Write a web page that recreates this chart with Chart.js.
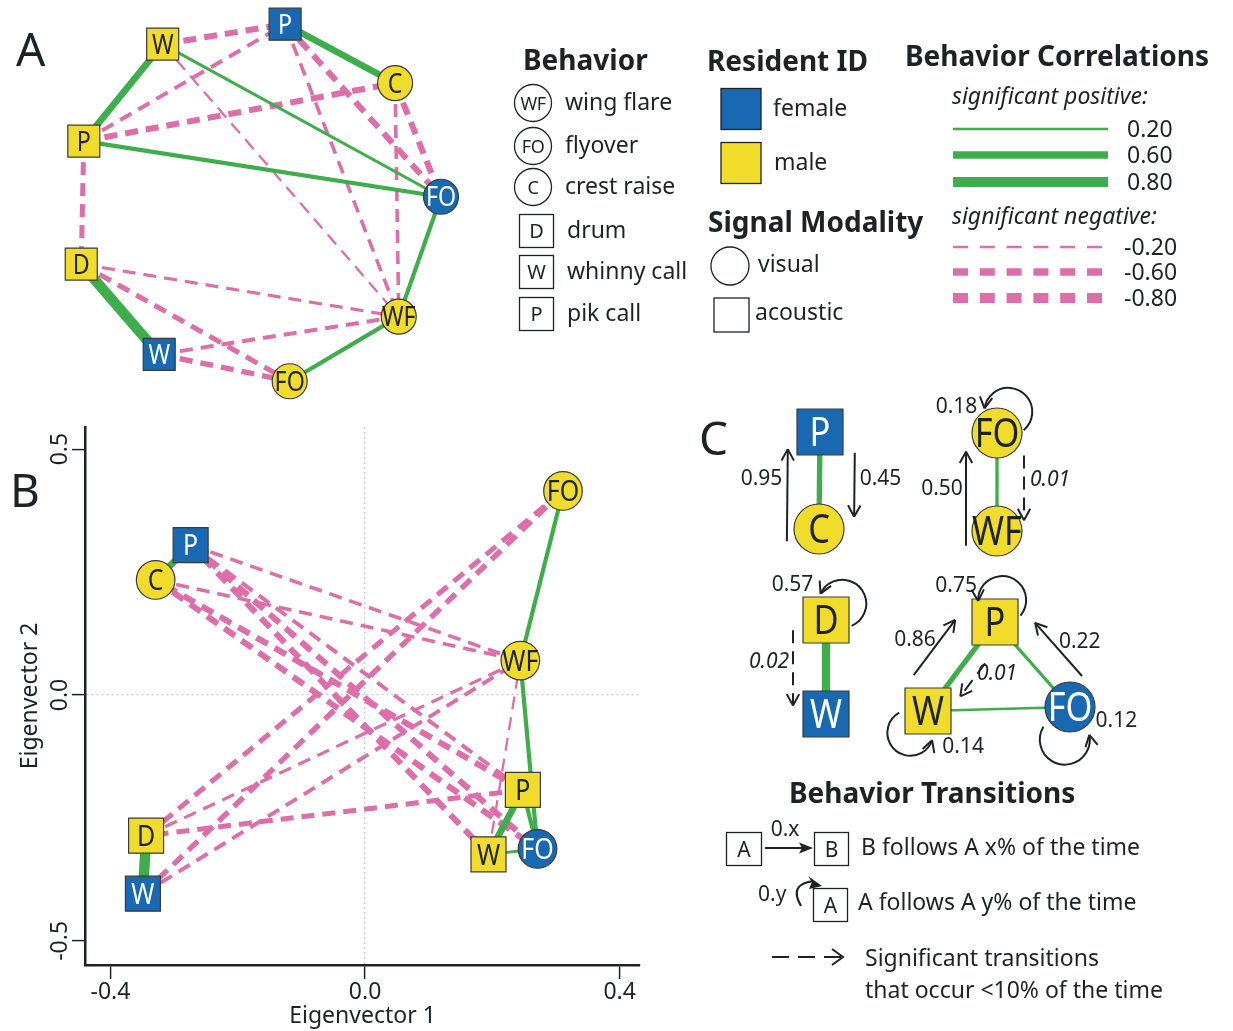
<!DOCTYPE html>
<html lang="en">
<head>
<meta charset="utf-8">
<title>Behavior correlations and transitions</title>
<script src="https://cdn.jsdelivr.net/npm/chart.js@4.4.1/dist/chart.umd.min.js"></script>
<style>
  html, body { margin: 0; padding: 0; background: #fff; }
  body { position: relative; width: 1233px; height: 1031px; overflow: hidden; }
  canvas, svg { position: absolute; }
  #network { left: 0; top: 0; }
  #pca { left: 0; top: 420px; }
  #transitions { left: 690px; top: 380px; }
  #legends { left: 0; top: 0; pointer-events: none; }
  svg text { font-family: "Noto Sans", sans-serif; fill: #1d2325; }
</style>
</head>
<body>
<canvas id="network" width="480" height="410"></canvas>
<canvas id="pca" width="650" height="611"></canvas>
<canvas id="transitions" width="543" height="400"></canvas>
<svg id="legends" width="1233" height="1031"></svg>
<script>
const INK = '#1d2325';
const YELLOW = '#f1dc2c';
const BLUE = '#1868b2';
const GREEN = '#3dae4b';
const PINK = '#dd6ea9';
const FONT = '"Noto Sans", sans-serif';

// one node per behavior and resident
const nodeLabels = ['W', 'P', 'C', 'FO', 'WF', 'FO', 'W', 'D', 'P'];
const nodeSex = ['male', 'female', 'male', 'female', 'male', 'male', 'female', 'male', 'male'];
const nodeSignal = ['acoustic', 'acoustic', 'visual', 'visual', 'visual', 'visual', 'acoustic', 'acoustic', 'acoustic'];

// ring layout of the correlation network (unit circle)
const ringX = [-0.548, 0.121, 0.722, 0.973, 0.742, 0.146, -0.567, -0.993, -0.979];
const ringY = [0.879, 0.988, 0.666, 0.045, -0.610, -0.963, -0.816, -0.323, 0.349];

// eigenvector scores
const eig1 = [0.194, -0.274, -0.329, 0.271, 0.244, 0.311, -0.349, -0.344, 0.248];
const eig2 = [-0.324, 0.305, 0.234, -0.313, 0.070, 0.415, -0.404, -0.286, -0.193];

// significant correlations between behaviors
const edgeFrom = [7, 0, 1, 8, 3, 4, 0, 0, 8, 8, 0, 1, 1, 2, 2, 8, 7, 7, 6, 6];
const edgeTo   = [6, 8, 2, 3, 4, 5, 3, 1, 1, 2, 4, 4, 3, 3, 4, 7, 4, 5, 4, 5];
const edgeR    = [0.85, 0.55, 0.55, 0.35, 0.35, 0.35, 0.25,
                  -0.50, -0.33, -0.50, -0.20, -0.30, -0.50, -0.50, -0.30, -0.42, -0.27, -0.42, -0.33, -0.45];

// transition diagrams: node placement (1 unit = 100 px) and sub-diagram
const flowX = [2.38, 1.30, 1.29, 3.80, 3.07, 3.07, 1.36, 1.36, 3.05];
const flowY = [3.31, 0.52, 1.49, 3.27, 1.51, 0.53, 3.34, 2.40, 2.42];
const flowGroup = [3, 0, 0, 3, 1, 1, 2, 2, 3];

// behavior transitions (from -> to, proportion of the time)
const transFrom = [2, 1, 4, 5, 7, 0, 3, 8, 5, 7, 8, 0, 3];
const transTo   = [1, 2, 5, 4, 6, 8, 8, 0, 5, 7, 8, 0, 3];
const transProb = [0.95, 0.45, 0.50, 0.01, 0.02, 0.86, 0.22, 0.01, 0.18, 0.57, 0.75, 0.14, 0.12];

// axis ticks and legend steps
const xTicks = [-0.4, 0, 0.4];
const yTicks = [-0.5, 0, 0.5];
const corrLegend = [0.2, 0.6, 0.8];

// arrow geometry: straight arrows run from t0 to t1 along the node pair, shifted sideways;
// self transitions are loops placed in direction `dir` from the node
const arrowLayout = [
  { t0: -0.13, t1: 0.82, off: 32, lt: 0.52, loff: 58 },
  { t0: 0.21, t1: 0.87, off: 35, lt: 0.46, loff: 61 },
  { t0: -0.15, t1: 0.81, off: 31, lt: 0.44, loff: 55 },
  { t0: 0.23, t1: 0.89, off: 27, lt: 0.46, loff: 53 },
  { t0: 0.11, t1: 0.91, off: -33, lt: 0.43, loff: -57 },
  { t0: 0.18, t1: 0.80, off: 33, lt: 0.45, loff: 54 },
  { t0: 0.135, t1: 0.76, off: -29.5, lt: 0.38, loff: -51 },
  { t0: 0.35, t1: 0.72, off: 17, lt: 0.35, loff: 32 },
  { dir: -62, dist: 24, r: 24, dx: -28, dy: -3 },
  { dir: -45, dist: 23, r: 24, dx: -28, dy: -10 },
  { dir: -72, dist: 23, r: 24, dx: -22, dy: -16 },
  { dir: 129, dist: 28, r: 23, dx: 31, dy: 5 },
  { dir: 99, dist: 33, r: 25, dx: 27, dy: -15 }
];

const corrWidth = r => 12.5 * Math.abs(r) - 0.2;

function nodeDataset(xs, ys, side, radius) {
  const idx = nodeLabels.map((_, i) => i);
  return {
    order: 0,
    clip: false,
    data: idx.map(i => ({ x: xs[i], y: ys[i], node: i })),
    pointStyle: idx.map(i => nodeSignal[i] === 'visual' ? 'circle' : 'rect'),
    pointRadius: idx.map(i => nodeSignal[i] === 'visual' ? radius : side * Math.SQRT1_2),
    pointBackgroundColor: idx.map(i => nodeSex[i] === 'female' ? BLUE : YELLOW),
    pointBorderColor: '#3a3a3a',
    pointBorderWidth: 1.2
  };
}

function edgeDatasets(xs, ys, widthScale, keep) {
  const sets = [];
  edgeR.forEach((r, k) => {
    const a = edgeFrom[k], b = edgeTo[k];
    if (keep && !keep(a, b, r)) return;
    sets.push({
      order: r > 0 ? 1 : 2,
      clip: false,
      showLine: true,
      pointRadius: 0,
      borderColor: r > 0 ? GREEN : PINK,
      borderWidth: corrWidth(r) * widthScale,
      borderDash: r > 0 ? [] : [13, 8],
      borderCapStyle: 'butt',
      data: [{ x: xs[a], y: ys[a] }, { x: xs[b], y: ys[b] }]
    });
  });
  return sets;
}

// behavior letters inside the node markers
const nodeText = {
  id: 'nodeText',
  afterDatasetsDraw(chart, args, opts) {
    const { ctx } = chart;
    const ds = chart.data.datasets[0];
    const meta = chart.getDatasetMeta(0);
    ctx.save();
    ctx.font = opts.size + 'px ' + FONT;
    ctx.textAlign = 'center';
    ctx.textBaseline = 'alphabetic';
    meta.data.forEach((pt, k) => {
      const i = ds.data[k].node;
      ctx.save();
      ctx.translate(pt.x, pt.y + opts.size * 0.36);
      ctx.scale(0.86, 1);
      ctx.fillStyle = nodeSex[i] === 'female' ? '#ffffff' : INK;
      ctx.fillText(nodeLabels[i], 0, 0);
      ctx.restore();
    });
    ctx.restore();
  }
};

// rotated tick labels on the vertical axis
const yTickText = {
  id: 'yTickText',
  afterDraw(chart) {
    const { ctx } = chart;
    const y = chart.scales.y;
    ctx.save();
    ctx.fillStyle = INK;
    ctx.font = '23px ' + FONT;
    ctx.textAlign = 'center';
    ctx.textBaseline = 'alphabetic';
    yTicks.forEach(v => {
      ctx.save();
      ctx.translate(67, y.getPixelForValue(v));
      ctx.rotate(-Math.PI / 2);
      ctx.fillText(v.toFixed(1), 0, 0);
      ctx.restore();
    });
    ctx.restore();
  }
};

// transition arrows, self loops and their proportions
const flowArrows = {
  id: 'flowArrows',
  afterDatasetsDraw(chart) {
    const { ctx } = chart;
    const sx = chart.scales.x, sy = chart.scales.y;
    const at = i => ({ x: sx.getPixelForValue(flowX[i]), y: sy.getPixelForValue(flowY[i]) });
    ctx.save();
    ctx.strokeStyle = INK;
    ctx.fillStyle = INK;
    ctx.lineWidth = 2;
    transProb.forEach((p, k) => {
      const a = at(transFrom[k]), b = at(transTo[k]), lay = arrowLayout[k];
      const rare = p < 0.1;
      let tip, dir, lx, ly;
      ctx.setLineDash(rare ? [13, 8] : []);
      ctx.beginPath();
      if (transFrom[k] === transTo[k]) {
        const th = lay.dir * Math.PI / 180;
        const cx = a.x + Math.cos(th) * lay.dist, cy = a.y + Math.sin(th) * lay.dist;
        const s = th + 112 * Math.PI / 180, e = th - 110 * Math.PI / 180;
        ctx.arc(cx, cy, lay.r, s, e, true);
        tip = { x: cx + Math.cos(e) * lay.r, y: cy + Math.sin(e) * lay.r };
        dir = { x: Math.sin(e), y: -Math.cos(e) };
        lx = tip.x + lay.dx;
        ly = tip.y + lay.dy;
      } else {
        const dx = b.x - a.x, dy = b.y - a.y, len = Math.hypot(dx, dy);
        const u = { x: dx / len, y: dy / len }, n = { x: u.y, y: -u.x };
        ctx.moveTo(a.x + u.x * lay.t0 * len + n.x * lay.off, a.y + u.y * lay.t0 * len + n.y * lay.off);
        tip = { x: a.x + u.x * lay.t1 * len + n.x * lay.off, y: a.y + u.y * lay.t1 * len + n.y * lay.off };
        ctx.lineTo(tip.x, tip.y);
        dir = u;
        lx = a.x + u.x * lay.lt * len + n.x * lay.loff;
        ly = a.y + u.y * lay.lt * len + n.y * lay.loff;
      }
      ctx.stroke();
      ctx.setLineDash([]);
      ctx.beginPath();
      [-1, 1].forEach(sgn => {
        const c = Math.cos(0.5), sn = Math.sin(0.5) * sgn;
        const bx = dir.x * c - dir.y * sn, by = dir.x * sn + dir.y * c;
        ctx.moveTo(tip.x - bx * 13, tip.y - by * 13);
        ctx.lineTo(tip.x, tip.y);
      });
      ctx.stroke();
      ctx.font = (rare ? 'italic ' : '') + '21px ' + FONT;
      ctx.textAlign = 'center';
      ctx.fillText(p.toFixed(2), lx, ly + 7.5);
    });
    ctx.restore();
  }
};

const bareScales = (x0, x1, y0, y1, reverse) => ({
  x: { type: 'linear', display: false, min: x0, max: x1 },
  y: { type: 'linear', display: false, min: y0, max: y1, reverse: !!reverse }
});

const baseOptions = {
  responsive: false,
  animation: false,
  events: [],
  devicePixelRatio: 1,
  layout: { padding: 0, autoPadding: false }
};

// A: correlation network on a ring
new Chart(document.getElementById('network'), {
  type: 'scatter',
  data: { datasets: [nodeDataset(ringX, ringY, 32, 17.5)].concat(edgeDatasets(ringX, ringY, 1)) },
  options: Object.assign({}, baseOptions, {
    scales: bareScales(-1.437, 1.186, -1.12, 1.12),
    plugins: { legend: { display: false }, tooltip: { enabled: false }, nodeText: { size: 27 } }
  }),
  plugins: [nodeText]
});

// B: behaviors in eigenvector space
const gridColor = c => (c.tick && c.tick.value === 0) ? '#c9c9c9' : 'rgba(0,0,0,0)';
new Chart(document.getElementById('pca'), {
  type: 'scatter',
  data: { datasets: [nodeDataset(eig1, eig2, 35, 19.3)].concat(edgeDatasets(eig1, eig2, 1)) },
  options: Object.assign({}, baseOptions, {
    layout: { padding: { top: 7, right: 10, left: 0, bottom: 0 }, autoPadding: false },
    scales: {
      x: {
        type: 'linear', min: -0.44, max: 0.432,
        afterBuildTicks: s => { s.ticks = xTicks.map(v => ({ value: v })); },
        afterFit: s => { s.height = 66; },
        grid: { color: gridColor, lineWidth: 1.2, tickColor: INK, tickLength: 14, tickWidth: 1.5 },
        border: { color: INK, width: 2.5, dash: [2, 3] },
        ticks: { color: INK, font: { family: 'Noto Sans', size: 23 }, padding: 0, maxRotation: 0,
                 callback: v => v.toFixed(1) },
        title: { display: true, text: 'Eigenvector 1', color: INK, font: { family: 'Noto Sans', size: 23 },
                 padding: { top: 0, bottom: 1 } }
      },
      y: {
        type: 'linear', min: -0.549, max: 0.545,
        afterBuildTicks: s => { s.ticks = yTicks.map(v => ({ value: v })); },
        afterFit: s => { s.width = 85; },
        grid: { color: gridColor, lineWidth: 1.2, tickColor: INK, tickLength: 13, tickWidth: 1.5 },
        border: { color: INK, width: 2.5, dash: [2, 3] },
        ticks: { display: false },
        title: { display: true, text: 'Eigenvector 2', color: INK, font: { family: 'Noto Sans', size: 23 },
                 padding: { top: 17, bottom: 0 } }
      }
    },
    plugins: { legend: { display: false }, tooltip: { enabled: false }, nodeText: { size: 29 } }
  }),
  plugins: [nodeText, yTickText]
});

// C: transition diagrams
new Chart(document.getElementById('transitions'), {
  type: 'scatter',
  data: {
    datasets: [nodeDataset(flowX, flowY, 46, 25)].concat(
      edgeDatasets(flowX, flowY, 0.8, (a, b, r) => r > 0 && flowGroup[a] === flowGroup[b]))
  },
  options: Object.assign({}, baseOptions, {
    scales: bareScales(0, 5.43, 0, 4.0, true),
    plugins: { legend: { display: false }, tooltip: { enabled: false }, nodeText: { size: 40 } }
  }),
  plugins: [nodeText, flowArrows]
});

// legends and panel letters
const svg = document.getElementById('legends');
const NS = 'http://www.w3.org/2000/svg';
function add(tag, attrs, content) {
  const el = document.createElementNS(NS, tag);
  Object.keys(attrs).forEach(k => el.setAttribute(k, attrs[k]));
  if (content !== undefined) el.textContent = content;
  svg.appendChild(el);
  return el;
}
function text(x, y, str, size, extra) {
  return add('text', Object.assign({ x: x, y: y, 'font-size': size }, extra || {}), str);
}
const bold = { 'font-weight': 700 };
const outline = { fill: 'none', stroke: INK, 'stroke-width': 1.3 };

text(16, 66, 'A', 46);
text(10, 507, 'B', 46);
text(699, 455, 'C', 46);

// Behavior
text(523, 70, 'Behavior', 28, bold);
[['WF', 'wing flare', 103, 'visual'], ['FO', 'flyover', 146, 'visual'], ['C', 'crest raise', 187, 'visual'],
 ['D', 'drum', 231, 'acoustic'], ['W', 'whinny call', 272, 'acoustic'], ['P', 'pik call', 314, 'acoustic']]
  .forEach(([code, name, cy, kind]) => {
    if (kind === 'visual') {
      add('circle', Object.assign({ cx: 533, cy: cy, r: 18.5 }, outline));
      text(533, cy + 6.5, code, 18, { 'text-anchor': 'middle', 'letter-spacing': -0.5 });
      text(565, cy + 7, name, 23);
    } else {
      add('rect', Object.assign({ x: 519.5, y: cy - 16.5, width: 34, height: 33 }, outline));
      text(536.5, cy + 7, code, 20, { 'text-anchor': 'middle' });
      text(567, cy + 7, name, 23);
    }
  });

// Resident ID
text(707, 71, 'Resident ID', 28, bold);
add('rect', { x: 721, y: 88.5, width: 40, height: 41, fill: BLUE, stroke: INK, 'stroke-width': 1.3 });
text(773, 116, 'female', 23);
add('rect', { x: 721, y: 142.5, width: 40, height: 41, fill: YELLOW, stroke: INK, 'stroke-width': 1.3 });
text(774, 170, 'male', 23);

// Signal Modality
text(708, 232, 'Signal Modality', 28, bold);
add('circle', Object.assign({ cx: 730, cy: 266, r: 19 }, outline));
text(758, 272, 'visual', 23);
add('rect', Object.assign({ x: 714, y: 298, width: 35, height: 34 }, outline));
text(755, 320, 'acoustic', 23);

// Behavior Correlations
text(905, 66, 'Behavior Correlations', 28, bold);
text(952, 104, 'significant positive:', 23, { 'font-style': 'italic' });
text(952, 224, 'significant negative:', 23, { 'font-style': 'italic' });
const posRows = [129, 155, 182];
const negRows = [247, 272, 298];
corrLegend.forEach((r, k) => {
  add('line', { x1: 953, x2: 1108, y1: posRows[k], y2: posRows[k], stroke: GREEN, 'stroke-width': corrWidth(r) });
  text(1127, posRows[k] + 8, r.toFixed(2), 23);
  add('line', { x1: 953, x2: 1102, y1: negRows[k], y2: negRows[k], stroke: PINK, 'stroke-width': corrWidth(r),
                'stroke-dasharray': '15 11.8' });
  text(1124, negRows[k] + 8, (-r).toFixed(2), 23);
});

// Behavior Transitions
text(789, 803, 'Behavior Transitions', 28, bold);
add('rect', Object.assign({ x: 726.5, y: 832.5, width: 35, height: 33 }, outline));
text(744, 857, 'A', 21, { 'text-anchor': 'middle' });
add('line', { x1: 765, x2: 806, y1: 848, y2: 848, stroke: INK, 'stroke-width': 2.2 });
add('path', { d: 'M 813 848 L 799 842.5 L 802 848 L 799 853.5 Z', fill: INK });
text(785, 836, '0.x', 21, { 'text-anchor': 'middle' });
add('rect', Object.assign({ x: 814.5, y: 832.5, width: 34, height: 33 }, outline));
text(831.5, 857, 'B', 21, { 'text-anchor': 'middle' });
text(861, 855, 'B follows A x% of the time', 23);

text(758, 901, '0.y', 21);
add('path', { d: 'M 801 906 Q 788 884 814 881', fill: 'none', stroke: INK, 'stroke-width': 2.2 });
add('path', { d: 'M 822 886 L 808 876 L 812 882 L 809 889 Z', fill: INK });
add('rect', Object.assign({ x: 813.5, y: 888.5, width: 34, height: 33 }, outline));
text(830.5, 913, 'A', 21, { 'text-anchor': 'middle' });
text(858, 910, 'A follows A y% of the time', 23);

add('line', { x1: 772, x2: 842, y1: 957, y2: 957, stroke: INK, 'stroke-width': 2, 'stroke-dasharray': '17 9' });
add('path', { d: 'M 832 949 L 843 957 L 832 965', fill: 'none', stroke: INK, 'stroke-width': 2 });
text(865, 966, 'Significant transitions', 23);
text(865, 998, 'that occur <10% of the time', 23);
</script>
</body>
</html>
